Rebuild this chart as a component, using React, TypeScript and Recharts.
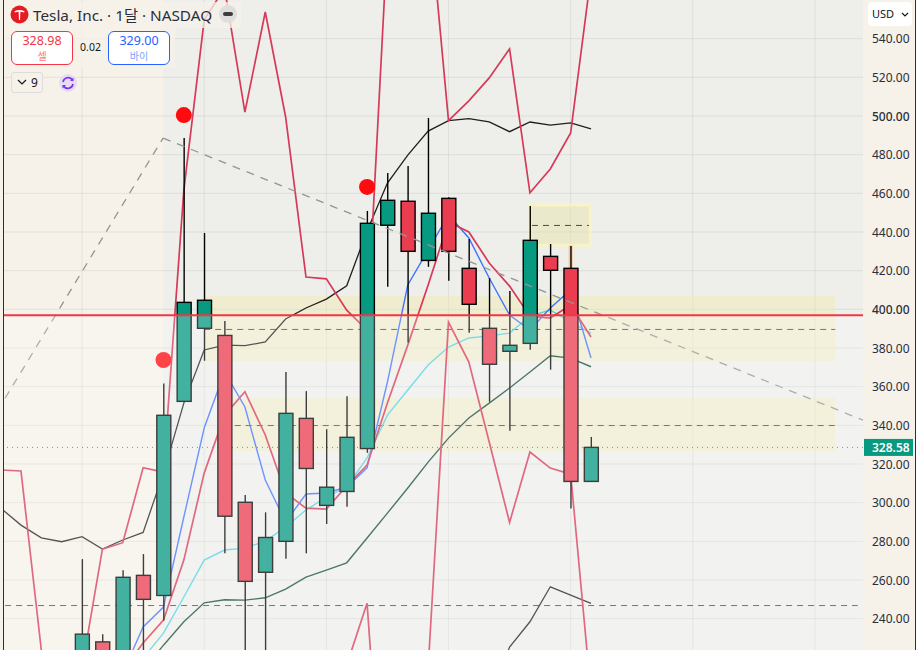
import React from 'react';
import { ComposedChart, Bar, Line, XAxis, YAxis, CartesianGrid, ReferenceArea, ReferenceLine, ReferenceDot } from 'recharts';

// monthly bars, index 0 is the first bar with a visible body
const barIndex = [-4, -3, -2, -1, 0, 1, 2, 3, 4, 5, 6, 7, 8, 9, 10, 11, 12, 13, 14, 15, 16, 17, 18, 19, 20, 21, 22, 23, 24, 25];

const opens = [null, null, null, null, 215, 228, 210, 262.4, 252, 352.4, 390.2, 386.5, 300.2, 264, 280, 343.6, 298.6, 305.8, 328, 443.5, 455.9, 425.3, 457.4, 421.2, 390.2, 378.3, 382.4, 427.4, 421.2, 311];
const closes = [null, null, null, null, 232, 215, 261.4, 250, 345.2, 403.6, 404.7, 293, 259.3, 282, 346.2, 317.7, 308, 333.8, 444.5, 456.4, 430, 449.7, 430, 402.6, 371.6, 381.4, 435.7, 420.2, 311, 328.6];
const highs = [null, null, null, null, 270.8, 232, 265, 273.4, 361.7, 488.6, 439.5, 394, 304, 295, 367.6, 357.7, 338, 355, 450.9, 470.5, 474.1, 499, 458, 436.4, 416.2, 409.5, 453.4, 433.8, 432.7, 334];
const lows = [null, null, null, null, 200, 210, 205, 215, 239, 352.4, 373.4, 273.8, 215, 215, 271, 273.8, 289, 297.9, 325.8, 411.7, 382.9, 422, 414.8, 387.9, 352.2, 337.2, 379.1, 368.8, 297, 311];

const darkLine = [297.2, 288.4, 281.8, 279.8, 282.4, 276, 280.7, 284.6, 315.3, 351.5, 379, 381.5, 381.2, 383.1, 395, 400.7, 405.3, 412.2, 440.5, 465.3, 479.8, 492.2, 497.6, 498.6, 497, 491.9, 496.9, 495.3, 496.4, 493.3];
const darkLower = [null, null, null, null, null, null, null, null, null, null, null, null, null, null, null, null, null, null, null, null, null, null, null, null, 198, 225.3, 238.4, 256.5, 252.2, 247.9];
const upperBand = [316.9, 316.4, 223.8, 200, 214.5, 276, 279.3, 318.1, 315.8, 461.7, 549.7, 566.2, 502, 553.8, 499.5, 416.7, 415.8, 399.6, 389.3, 591, 611.7, 611.7, 497.6, 507.8, 519.7, 534.7, 460.3, 472.6, 491.2, 572.9];
const lowerBand = [null, null, null, null, null, null, null, null, null, null, null, null, null, null, null, null, 198, 216, 248, 100, 95, 214.4, 393.4, 372.7, 331.4, 289.8, 326.2, 317.9, 314.8, 201];
const roseLine = [null, null, null, null, null, null, 213.4, 227.4, 239.3, 270.3, 315.3, 345.3, 357.4, 335, 305, 297.2, 296.7, 308.6, 319.5, 351.5, 381.5, 412.6, 445.2, 440, 424, 412, 396.5, 395.5, 402.2, 385.7];
const blueLine = [null, null, null, null, null, null, 212, 235.7, 246, 292.6, 338.6, 367.6, 349.5, 311.7, 290, 304.5, 305, 308.1, 318, 362.4, 412.6, 430.7, 448.8, 436.9, 416.2, 397, 389.3, 400.7, 410, 374.8];
const cyanLine = [null, null, null, null, null, null, 208, 219.6, 232.5, 251.2, 270.3, 275.5, 276.5, 280.1, 287.4, 296.2, 302.9, 308.1, 323.1, 345.3, 358.3, 371.2, 380.5, 385.2, 386.3, 387.7, 396.5, 399.6, 393.4, 387.7];
const greenLine = [null, null, null, null, null, null, 203, 213.4, 226.3, 238.4, 248.2, 249.8, 249.6, 250.8, 255.3, 261.5, 265.1, 268.9, 281.7, 294.6, 307.6, 321, 333.4, 343.8, 351.5, 359.3, 367.6, 376, 374.8, 370.3];

const priceTicks = [240, 260, 280, 300, 320, 340, 360, 380, 400, 420, 440, 460, 480, 500, 520, 540];
const timeTicks = [0, 6, 12, 18, 24, 30, 36];
const lastPrice = 328.58;
const sellPrice = '328.98';
const buyPrice = '329.00';
const spread = '0.02';

const chartData = barIndex.map((i, n) => ({
    i,
    open: opens[n],
    close: closes[n],
    high: highs[n],
    low: lows[n],
    darkLine: darkLine[n],
    darkLower: darkLower[n],
    upperBand: upperBand[n],
    lowerBand: lowerBand[n],
    roseLine: roseLine[n],
    blueLine: blueLine[n],
    cyanLine: cyanLine[n],
    greenLine: greenLine[n],
}));

const UP = '#089981';
const DOWN = '#ea3d50';
const FONT = '"Noto Sans", "Noto Sans CJK KR", sans-serif';

const Candle = (props: any) => {
    const { x, y, width, height, payload } = props;
    if (payload.high == null || !height) return null;
    const k = height / (payload.high - payload.low);
    const top = y + (payload.high - Math.max(payload.open, payload.close)) * k;
    const bottom = y + (payload.high - Math.min(payload.open, payload.close)) * k;
    const mid = x + width / 2 + 0.5;
    return (
        <g>
            <line x1={mid} x2={mid} y1={y} y2={y + height} stroke="#000" strokeWidth={1.4} />
            <rect x={x + 0.5} y={top} width={width} height={bottom - top} fill={payload.close >= payload.open ? UP : DOWN} stroke="#000" strokeWidth={1.4} />
        </g>
    );
};

const PriceTick = (props: any) => {
    const { y, payload } = props;
    if (payload.value === lastPrice) {
        return (
            <g>
                <rect x={864} y={y - 8.5} width={49} height={17} fill={UP} />
                <text x={872} y={y + 4.5} fontFamily={FONT} fontSize={12} fontWeight={600} fill="#fff">{lastPrice.toFixed(2)}</text>
            </g>
        );
    }
    const strong = payload.value === 400 || payload.value === 500;
    return (
        <text x={872} y={y + 4.5} fontFamily={FONT} fontSize={12} fontWeight={strong ? 500 : 400} fill="#2a2e39">
            {payload.value.toFixed(2)}
        </text>
    );
};

const App: React.FC = () => {
    return (
        <div style={{ position: 'absolute', left: 0, top: 0, width: 916, height: 650, overflow: 'hidden', background: '#f6f2ea', fontFamily: FONT }}>
            <ComposedChart width={916} height={650} data={chartData} margin={{ top: 0, right: 0, bottom: 0, left: 0 }} barSize={14}>
                <XAxis dataKey="i" type="number" domain={[-4.03, 38.36]} ticks={timeTicks} allowDataOverflow hide />
                <YAxis
                    orientation="right"
                    width={53}
                    domain={[223.8, 560]}
                    allowDataOverflow
                    ticks={[...priceTicks, lastPrice]}
                    interval={0}
                    tick={<PriceTick />}
                    tickLine={false}
                    axisLine={false}
                />
                <ReferenceArea x1={3.98} x2={38.36} y1={223.8} y2={560} fill="#eeefeb" fillOpacity={1} stroke="none" ifOverflow="hidden" zIndex={-200} />
                <CartesianGrid stroke="#000" strokeOpacity={0.07} horizontalValues={priceTicks} verticalValues={timeTicks} zIndex={-150} />

                <ReferenceArea x1={6} x2={37} y1={373.3} y2={406.9} fill="#efe9b0" fillOpacity={0.45} stroke="none" zIndex={-100} />
                <ReferenceArea x1={7.45} x2={37} y1={326.7} y2={354.1} fill="#efe9b0" fillOpacity={0.45} stroke="none" zIndex={-100} />
                <ReferenceArea x1={22} x2={24.97} y1={433.2} y2={454} fill="#e8e09c" fillOpacity={0.38} stroke="#f8f3c4" strokeWidth={3} zIndex={-100} />
                <ReferenceArea x1={23.9} x2={24.1} y1={421} y2={433} fill="#f7c596" fillOpacity={1} stroke="none" zIndex={-90} />

                <ReferenceLine y={lastPrice} stroke={UP} strokeDasharray="1 4" zIndex={-80} />
                <ReferenceLine segment={[{ x: -3.78, y: 246.8 }, { x: 38.1, y: 246.8 }]} stroke="#5e2fb0" strokeDasharray="6 5" zIndex={-80} />
                <ReferenceLine segment={[{ x: 6, y: 389.6 }, { x: 37, y: 389.6 }]} stroke="#5e2fb0" strokeDasharray="6 5" zIndex={-80} />
                <ReferenceLine segment={[{ x: 7.5, y: 339.9 }, { x: 37, y: 339.9 }]} stroke="#5e2fb0" strokeDasharray="6 5" zIndex={-80} />
                <ReferenceLine segment={[{ x: 22.1, y: 443.4 }, { x: 24.9, y: 443.4 }]} stroke="#5e2fb0" strokeDasharray="6 5" zIndex={-80} />

                <Line dataKey="darkLine" stroke="#1f1f1f" strokeWidth={1.3} dot={false} isAnimationActive={false} zIndex={10} />
                <Line dataKey="darkLower" stroke="#1f1f1f" strokeWidth={1.3} dot={false} isAnimationActive={false} zIndex={10} />
                <Line dataKey="greenLine" stroke="#144d3c" strokeWidth={1.4} dot={false} isAnimationActive={false} zIndex={10} />
                <Line dataKey="cyanLine" stroke="#4ed2e4" strokeWidth={1.4} dot={false} isAnimationActive={false} zIndex={10} />
                <Line dataKey="blueLine" stroke="#3f72ff" strokeWidth={1.4} dot={false} isAnimationActive={false} zIndex={10} />
                <Line dataKey="roseLine" stroke="#d63a58" strokeWidth={1.7} dot={false} isAnimationActive={false} zIndex={10} />
                <Line dataKey="upperBand" stroke="#d63a58" strokeWidth={1.7} dot={false} isAnimationActive={false} zIndex={10} />
                <Line dataKey="lowerBand" stroke="#d63a58" strokeWidth={1.7} dot={false} isAnimationActive={false} zIndex={10} />

                <Bar dataKey={(d: any) => (d.high == null ? null : [d.low, d.high])} shape={<Candle />} isAnimationActive={false} zIndex={20} />

                <ReferenceLine segment={[{ x: -3.78, y: 354 }, { x: 3.98, y: 488.6 }]} stroke="#949494" strokeWidth={1.3} strokeDasharray="8 7" zIndex={30} />
                <ReferenceLine segment={[{ x: 3.98, y: 488.6 }, { x: 38.36, y: 342.7 }]} stroke="#949494" strokeWidth={1.3} strokeDasharray="8 7" zIndex={30} />

                <ReferenceDot x={4} y={373.8} r={8} fill="#ff0a0f" stroke="none" zIndex={40} />
                <ReferenceDot x={5} y={500.5} r={8} fill="#ff0a0f" stroke="none" zIndex={40} />
                <ReferenceDot x={14} y={463.3} r={8} fill="#ff0a0f" stroke="none" zIndex={40} />

                <ReferenceArea x1={-4.03} x2={38.36} y1={223.8} y2={397} fill="#fff" fillOpacity={0.24} stroke="none" zIndex={50} />
                <ReferenceLine y={397} stroke="#f23645" strokeWidth={2} zIndex={60} />
            </ComposedChart>

            {/* frame */}
            <div style={{ position: 'absolute', left: 0, top: 0, width: 3, height: 650, background: '#f6f2ea' }} />
            <div style={{ position: 'absolute', left: 3, top: 0, width: 1.4, height: 650, background: '#2f2f33' }} />
            <div style={{ position: 'absolute', left: 915, top: 0, width: 1, height: 650, background: '#2f2f33' }} />

            {/* symbol legend */}
            <div style={{ position: 'absolute', left: 5, top: 2, width: 236, height: 26, background: 'rgba(246,242,234,0.75)' }} />
            <div style={{ position: 'absolute', left: 5, top: 28, width: 170, height: 40, background: 'rgba(246,242,234,0.75)' }} />
            <svg style={{ position: 'absolute', left: 10, top: 5 }} width={20} height={20}>
                <circle cx={9.5} cy={9.5} r={9} fill="#e31b23" />
                <path d="M4.5 6.2 Q9.5 4 14.5 6.2 L14.2 7.4 Q12 6.8 10.4 6.8 L10 15 L9 15 L8.6 6.8 Q7 6.8 4.8 7.4 Z" fill="#fff" />
            </svg>
            <div style={{ position: 'absolute', left: 33, top: 3, fontSize: 15.3, color: '#2a2e39', whiteSpace: 'nowrap', lineHeight: '24px' }}>Tesla, Inc. · 1달 · NASDAQ</div>
            <svg style={{ position: 'absolute', left: 218, top: 4 }} width={20} height={20}>
                <circle cx={10} cy={10} r={9} fill="#dedede" />
                <rect x={5} y={8} width={10} height={4} rx={2} fill="#3c3c3c" />
            </svg>

            <div style={{ position: 'absolute', left: 11, top: 31, width: 60, height: 32, border: '1px solid #f23645', borderRadius: 6, background: '#fff', textAlign: 'center', color: '#f23645' }}>
                <div style={{ fontSize: 12.5, lineHeight: '16px', marginTop: 1 }}>{sellPrice}</div>
                <div style={{ fontSize: 10, lineHeight: '15px', color: '#f77c80' }}>셀</div>
            </div>
            <div style={{ position: 'absolute', left: 73, top: 40, width: 35, textAlign: 'center', fontSize: 10.5, lineHeight: '14px', color: '#131722' }}>{spread}</div>
            <div style={{ position: 'absolute', left: 108, top: 31, width: 60, height: 32, border: '1px solid #2962ff', borderRadius: 6, background: '#fff', textAlign: 'center', color: '#2962ff' }}>
                <div style={{ fontSize: 12.5, lineHeight: '16px', marginTop: 1 }}>{buyPrice}</div>
                <div style={{ fontSize: 10, lineHeight: '15px', color: '#7ea0f8' }}>바이</div>
            </div>

            <div style={{ position: 'absolute', left: 11, top: 72, width: 30, height: 19, border: '1px solid #dcdcdc', borderRadius: 3, background: '#f6f2ea', fontSize: 12, lineHeight: '19px', color: '#131722' }}>
                <svg style={{ position: 'absolute', left: 5, top: 6 }} width={10} height={7}>
                    <path d="M1 1 L5 5 L9 1" stroke="#131722" strokeWidth={1.2} fill="none" />
                </svg>
                <span style={{ position: 'absolute', left: 19 }}>9</span>
            </div>
            <svg style={{ position: 'absolute', left: 59, top: 74 }} width={18} height={18}>
                <circle cx={9} cy={9} r={9} fill="#e4dff0" />
                <path d="M4 8 A5.2 5.2 0 0 1 13.5 6 M14 10 A5.2 5.2 0 0 1 4.5 12" stroke="#7b2ff7" strokeWidth={1.6} fill="none" />
                <path d="M14.5 3.5 L14.5 7 L11 7 Z M3.5 14.5 L3.5 11 L7 11 Z" fill="#7b2ff7" />
            </svg>

            {/* currency selector */}
            <div style={{ position: 'absolute', left: 868, top: 2, width: 44, height: 24, background: '#fff', borderRadius: 4, fontSize: 11, lineHeight: '24px', color: '#131722' }}>
                <span style={{ position: 'absolute', left: 4 }}>USD</span>
                <svg style={{ position: 'absolute', left: 33, top: 10 }} width={8} height={5}>
                    <path d="M1 1 L4 4 L7 1" stroke="#131722" strokeWidth={1.2} fill="none" />
                </svg>
            </div>
        </div>
    );
};

export default App;
